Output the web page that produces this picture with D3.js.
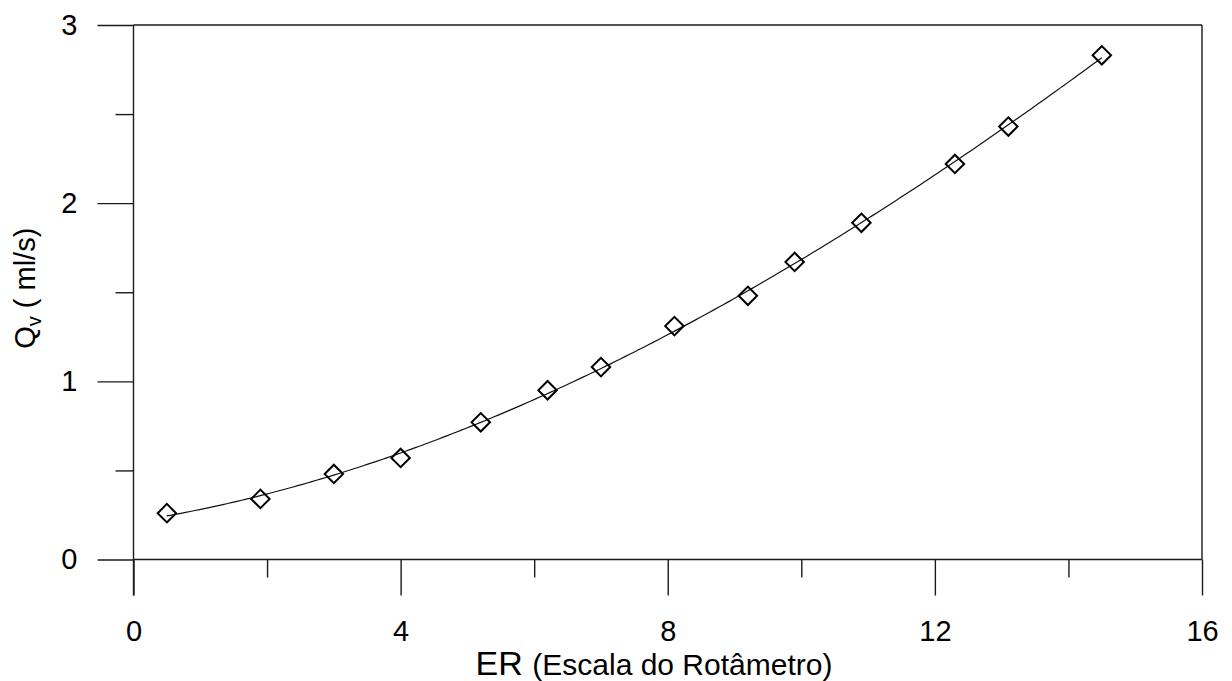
<!DOCTYPE html>
<html>
<head>
<meta charset="utf-8">
<script src="https://cdn.jsdelivr.net/npm/d3@7"></script>
<style>
  html, body { margin: 0; padding: 0; background: #fff; }
  svg { display: block; font-family: "Liberation Sans", Arial, sans-serif; }
</style>
</head>
<body>
<svg id="chart" width="1232" height="681"></svg>
<script>
// Rotameter calibration: volumetric flow vs. scale reading
const erValues = [0.5, 1.9, 3.0, 4.0, 5.2, 6.2, 7.0, 8.1, 9.2, 9.9, 10.9, 12.3, 13.1, 14.5];
const qvValues = [0.26, 0.34, 0.48, 0.57, 0.77, 0.95, 1.08, 1.31, 1.48, 1.67, 1.89, 2.22, 2.43, 2.83];
const xMajorTicks = [0, 4, 8, 12, 16];
const xMinorTicks = [2, 6, 10, 14];
const yMajorTicks = [0, 1, 2, 3];
const yMinorTicks = [0.5, 1.5, 2.5];

const svg = d3.select("#chart");
const plotLeft = 133.5, plotRight = 1202, plotTop = 25, plotBottom = 559.5;

const x = d3.scaleLinear().domain([0, 16]).range([plotLeft, plotRight]);
const y = d3.scaleLinear().domain([0, 3]).range([plotBottom, plotTop]);

const axisColor = "#1a1a1a";
const majorLen = 36, minorLen = 18;
const tickFont = 29;

// Frame: top and right edges
svg.append("line").attr("x1", plotLeft).attr("x2", plotRight).attr("y1", plotTop).attr("y2", plotTop)
  .attr("stroke", axisColor).attr("stroke-width", 1.4);
svg.append("line").attr("x1", plotRight).attr("x2", plotRight).attr("y1", plotTop).attr("y2", plotBottom)
  .attr("stroke", axisColor).attr("stroke-width", 1.4);

// Bottom axis
const xAxisMajor = d3.axisBottom(x).tickValues(xMajorTicks).tickSize(majorLen).tickFormat(d3.format("d"));
const gx = svg.append("g").attr("transform", `translate(0,${plotBottom})`).call(xAxisMajor);
gx.select(".domain").remove();
gx.selectAll(".tick line").attr("stroke", axisColor).attr("stroke-width", 1.4);
gx.selectAll(".tick text").attr("font-size", tickFont).attr("fill", "#000").attr("y", majorLen + 25).attr("dy", "0.71em");

const xAxisMinor = d3.axisBottom(x).tickValues(xMinorTicks).tickSize(minorLen).tickFormat("");
const gxm = svg.append("g").attr("transform", `translate(0,${plotBottom})`).call(xAxisMinor);
gxm.select(".domain").remove();
gxm.selectAll(".tick line").attr("stroke", axisColor).attr("stroke-width", 1.4);

svg.append("line").attr("x1", plotLeft).attr("x2", plotRight).attr("y1", plotBottom).attr("y2", plotBottom)
  .attr("stroke", axisColor).attr("stroke-width", 1.4);

// Left axis
const yAxisMajor = d3.axisLeft(y).tickValues(yMajorTicks).tickSize(majorLen).tickPadding(20).tickFormat(d3.format("d"));
const gy = svg.append("g").attr("transform", `translate(${plotLeft},0)`).call(yAxisMajor);
gy.select(".domain").remove();
gy.selectAll(".tick line").attr("stroke", axisColor).attr("stroke-width", 1.4);
gy.selectAll(".tick text").attr("font-size", tickFont).attr("fill", "#000");

const yAxisMinor = d3.axisLeft(y).tickValues(yMinorTicks).tickSize(minorLen).tickFormat("");
const gym = svg.append("g").attr("transform", `translate(${plotLeft},0)`).call(yAxisMinor);
gym.select(".domain").remove();
gym.selectAll(".tick line").attr("stroke", axisColor).attr("stroke-width", 1.4);

svg.append("line").attr("x1", plotLeft).attr("x2", plotLeft).attr("y1", plotTop).attr("y2", plotBottom + majorLen)
  .attr("stroke", axisColor).attr("stroke-width", 1.4);

// Least-squares polynomial fit (degree 3) of Qv against ER
function polyFit(xs, ys, deg) {
  const n = deg + 1;
  const A = Array.from({ length: n }, () => new Array(n + 1).fill(0));
  xs.forEach((xv, k) => {
    for (let i = 0; i < n; i++) {
      for (let j = 0; j < n; j++) A[i][j] += Math.pow(xv, i + j);
      A[i][n] += ys[k] * Math.pow(xv, i);
    }
  });
  for (let c = 0; c < n; c++) {
    let p = c;
    for (let r = c + 1; r < n; r++) if (Math.abs(A[r][c]) > Math.abs(A[p][c])) p = r;
    [A[c], A[p]] = [A[p], A[c]];
    for (let r = 0; r < n; r++) {
      if (r === c) continue;
      const f = A[r][c] / A[c][c];
      for (let k = c; k <= n; k++) A[r][k] -= f * A[c][k];
    }
  }
  return A.map((row, i) => row[n] / row[i]);
}
const coef = polyFit(erValues, qvValues, 3);
const fitAt = xv => coef.reduce((s, c, i) => s + c * Math.pow(xv, i), 0);
const x0 = d3.min(erValues), x1 = d3.max(erValues);
const fitPts = d3.range(0, 201).map(i => {
  const xv = x0 + (x1 - x0) * i / 200;
  return [xv, fitAt(xv)];
});

svg.append("path")
  .datum(fitPts)
  .attr("fill", "none")
  .attr("stroke", "#111")
  .attr("stroke-width", 1.2)
  .attr("d", d3.line().x(d => x(d[0])).y(d => y(d[1])));

// Diamond markers
const diamond = d3.symbol().type(d3.symbolSquare).size(170);
svg.append("g").selectAll("path")
  .data(erValues.map((v, i) => [v, qvValues[i]]))
  .join("path")
  .attr("d", diamond)
  .attr("transform", d => `translate(${x(d[0])},${y(d[1])}) rotate(45)`)
  .attr("fill", "none")
  .attr("stroke", "#000")
  .attr("stroke-width", 2);

// Axis titles
const xt = svg.append("text")
  .attr("x", 654).attr("y", 675)
  .attr("text-anchor", "middle")
  .attr("fill", "#000");
xt.append("tspan").attr("font-size", 34).text("ER ");
xt.append("tspan").attr("font-size", 30).text("(Escala do Rotâmetro)");

const yt = svg.append("text")
  .attr("transform", `translate(35,${(plotTop + plotBottom) / 2 - 4}) rotate(-90)`)
  .attr("text-anchor", "middle")
  .attr("fill", "#000")
  .attr("font-size", 29);
yt.append("tspan").text("Q");
yt.append("tspan").attr("font-size", 20).attr("dy", 6).text("v");
yt.append("tspan").attr("dy", -6).text(" ( ml/s)");
</script>
</body>
</html>
